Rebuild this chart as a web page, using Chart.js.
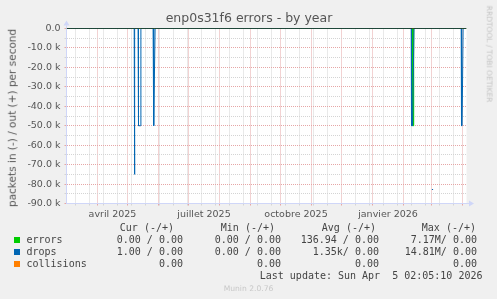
<!DOCTYPE html>
<html>
<head>
<meta charset="utf-8">
<title>enp0s31f6 errors - by year</title>
<script src="https://cdn.jsdelivr.net/npm/chart.js@4.4.1/dist/chart.umd.min.js"></script>
<style>
  html, body { margin: 0; padding: 0; background: #f0f0f0; }
  #graph { position: relative; width: 497px; height: 299px; overflow: hidden; background: #f0f0f0;
           font-family: 'DejaVu Sans', sans-serif; color: #555; }
  #graph canvas { position: absolute; left: 0; top: 0; }
  .t { position: absolute; white-space: pre; }
  .mono { font-family: 'DejaVu Sans Mono', monospace; color: #444; }
  .rot { transform: translate(-50%, -50%) rotate(-90deg); }
  .rot90 { transform: translate(-50%, -50%) rotate(90deg); }
  .box { position: absolute; width: 6px; height: 6px; }
</style>
</head>
<body>
<div id="graph">
  <canvas id="chart" width="497" height="299"></canvas>
</div>
<script>
// ---- data (x = days since 1 mars 2025, 1 px per day) ----
const dropsDay = [0, 67.7, 68, 68.3, 71.6, 72, 74, 74.4, 86.6, 87.2, 88.6, 344.7, 345, 346, 347.5, 394.7, 395, 395.6, 396.6, 400];
const dropsIn  = [0, 0, -75000, 0, 0, -50000, -50000, 0, 0, -50000, 0, 0, -50000, -50000, 0, 0, -50000, -50000, 0, 0];
const dropsDotDay = [366];
const dropsDotIn  = [-82800];
const errorsDay = [0, 346.1, 346.4, 347, 347.2, 400];
const errorsIn  = [0, 0, -50000, -50000, 0, 0];
const collisionsDay = [0, 400];
const collisionsVal = [0, 0];
const outDay = [0, 400];
const outVal = [0, 0];

// axis ticks
const monthStarts = [31, 61, 92, 122, 153, 184, 214, 245, 275, 306, 337, 365, 396];
const minorDays = [9, 23, 37, 51, 65, 79, 93, 107, 121, 135, 149, 163, 177, 191, 205, 219, 233, 247, 261, 275, 289, 303, 317, 331, 345, 359, 373, 387];
const labelDays = [46, 137.5, 229.5, 321.5];
const monthLabels = ['avril 2025', 'juillet 2025', 'octobre 2025', 'janvier 2026'];
const yMajor = [0, -10000, -20000, -30000, -40000, -50000, -60000, -70000, -80000, -90000];
const yMajorLabels = ['0.0', '-10.0 k', '-20.0 k', '-30.0 k', '-40.0 k', '-50.0 k', '-60.0 k', '-70.0 k', '-80.0 k', '-90.0 k'];
const yMinor = [-5000, -15000, -25000, -35000, -45000, -55000, -65000, -75000, -85000];

// legend table
const legendNames = ['errors', 'drops', 'collisions'];
const legendColors = ['#00cc00', '#0066b3', '#ff8000'];
const colHeads = ['Cur (-/+)', 'Min (-/+)', 'Avg (-/+)', 'Max (-/+)'];
const curCol = ['0.00 / 0.00', '1.00 / 0.00', '0.00'];
const minCol = ['0.00 / 0.00', '0.00 / 0.00', '0.00'];
const avgCol = ['136.94 / 0.00', '1.35k/ 0.00', '0.00'];
const maxCol = ['7.17M/ 0.00', '14.81M/ 0.00', '0.00'];
const lastUpdate = 'Last update: Sun Apr  5 02:05:10 2026';

const MAJOR = '#e6a6a6';
const MINOR = '#d4d4d4';
const AXIS = '#cfd6f8';
const tickFont = { family: 'DejaVu Sans', size: 9.5 };

function pts(xs, ys) { return xs.map((x, i) => ({ x: x, y: ys[i] })); }

// white canvas behind the plot
const canvasBg = {
  id: 'canvasBg',
  beforeDraw(chart) {
    const { ctx, chartArea: a } = chart;
    ctx.save();
    ctx.fillStyle = '#ffffff';
    ctx.fillRect(a.left, a.top, a.right - a.left, a.bottom - a.top);
    ctx.restore();
  }
};

// arrows at the end of the axes, like rrdtool
const axisArrows = {
  id: 'axisArrows',
  afterDraw(chart) {
    const { ctx, chartArea: a } = chart;
    ctx.save();
    ctx.strokeStyle = AXIS;
    ctx.fillStyle = AXIS;
    ctx.lineWidth = 1;
    ctx.beginPath();
    ctx.moveTo(a.left, a.top); ctx.lineTo(a.left, a.top - 3);
    ctx.moveTo(a.right, a.bottom); ctx.lineTo(a.right + 3, a.bottom);
    ctx.stroke();
    ctx.beginPath();
    ctx.moveTo(a.left - 3, a.top - 3); ctx.lineTo(a.left + 3, a.top - 3); ctx.lineTo(a.left, a.top - 8);
    ctx.closePath(); ctx.fill();
    ctx.beginPath();
    ctx.moveTo(a.right + 2.5, a.bottom - 3); ctx.lineTo(a.right + 2.5, a.bottom + 3); ctx.lineTo(a.right + 7.5, a.bottom);
    ctx.closePath(); ctx.fill();
    ctx.restore();
  }
};

new Chart(document.getElementById('chart'), {
  type: 'line',
  data: {
    datasets: [
      { label: 'out', data: pts(outDay, outVal), borderColor: '#000000', borderWidth: 1, pointRadius: 0, order: 0 },
      { label: 'drops', data: pts(dropsDay, dropsIn), borderColor: '#0066b3', borderWidth: 1, pointRadius: 0, order: 1 },
      { label: 'drops ', data: pts(dropsDotDay, dropsDotIn), showLine: false, pointStyle: 'rect', pointRadius: 0.8,
        pointBorderWidth: 0, backgroundColor: '#0066b3', order: 1 },
      { label: 'errors', data: pts(errorsDay, errorsIn), borderColor: '#00cc00', borderWidth: 1, pointRadius: 0, order: 2 },
      { label: 'collisions', data: pts(collisionsDay, collisionsVal), borderColor: '#ff8000', borderWidth: 1, pointRadius: 0, order: 3 }
    ]
  },
  options: {
    responsive: false,
    animation: false,
    events: [],
    layout: { padding: { left: 0, top: 28.5, right: 30.5, bottom: 71.5 } },
    plugins: { legend: { display: false }, tooltip: { enabled: false }, title: { display: false } },
    elements: { line: { tension: 0 } },
    scales: {
      x: {
        type: 'linear', min: 0, max: 400, weight: 0,
        afterBuildTicks: ax => { ax.ticks = monthStarts.concat(minorDays.filter(d => !monthStarts.includes(d))).sort((a, b) => a - b).map(v => ({ value: v })); },
        ticks: { display: false },
        grid: { color: c => monthStarts.includes(c.tick.value) ? MAJOR : MINOR, tickLength: 2, lineWidth: 1 },
        border: { color: AXIS, dash: [1, 1] },
        afterFit: s => { s.height = 4; }
      },
      xl: {
        type: 'linear', axis: 'x', position: 'bottom', min: 0, max: 400, weight: 1,
        afterBuildTicks: ax => { ax.ticks = labelDays.map(v => ({ value: v })); },
        ticks: { callback: (v, i) => monthLabels[i], font: tickFont, color: '#555', padding: 1, maxRotation: 0, autoSkip: false },
        grid: { display: false, drawTicks: false },
        border: { display: false },
        afterFit: s => { s.height = 20; }
      },
      y: {
        type: 'linear', min: -90000, max: 0,
        afterBuildTicks: ax => { ax.ticks = yMajor.concat(yMinor).sort((a, b) => b - a).map(v => ({ value: v })); },
        ticks: {
          callback: v => { const i = yMajor.indexOf(v); return i < 0 ? '' : yMajorLabels[i]; },
          font: tickFont, color: '#555', padding: 4, autoSkip: false
        },
        grid: { color: c => yMajor.includes(c.tick.value) ? MAJOR : MINOR, tickLength: 2, lineWidth: 1 },
        border: { color: AXIS, dash: [1, 1] },
        afterFit: s => { s.width = 66.5; }
      }
    }
  },
  plugins: [canvasBg, axisArrows]
});

// ---- texts around the plot (title, axis title, legend table) ----
const graph = document.getElementById('graph');
function addText(text, o) {
  const d = document.createElement('div');
  d.className = 't ' + (o.cls || '');
  d.textContent = text;
  d.style.fontSize = o.size + 'px';
  d.style.lineHeight = o.size + 'px';
  if (o.color) d.style.color = o.color;
  if (o.cx !== undefined) {
    d.style.left = o.cx + 'px';
    d.style.top = o.cy + 'px';
  } else {
    d.style.top = (o.baseline - 0.846 * o.size) + 'px';
    if (o.right !== undefined) d.style.right = (497 - o.right) + 'px';
    else d.style.left = o.left + 'px';
  }
  graph.appendChild(d);
  return d;
}

const title = addText('enp0s31f6 errors - by year', { size: 12.5, baseline: 22.3, left: 0 });
title.style.width = '498px';
title.style.textAlign = 'center';

addText('packets in (-) / out (+) per second', { size: 10.5, cx: 11.5, cy: 118, cls: 'rot' });
addText('RRDTOOL / TOBI OETIKER', { size: 7.5, cx: 489, cy: 53.5, cls: 'rot90', color: '#c4c4c4' });

const colRight = [183, 281, 379, 477];
const headRight = [174, 275, 376, 476];
colHeads.forEach((h, i) => addText(h, { size: 10, baseline: 231, right: headRight[i], cls: 'mono' }));
const rowBase = [243, 255, 267];
legendNames.forEach((name, r) => {
  const b = document.createElement('div');
  b.className = 'box';
  b.style.left = '14px';
  b.style.top = (rowBase[r] - 6) + 'px';
  b.style.background = legendColors[r];
  graph.appendChild(b);
  addText(name, { size: 10, baseline: rowBase[r], left: 26.5, cls: 'mono' });
  [curCol, minCol, avgCol, maxCol].forEach((col, i) => addText(col[r], { size: 10, baseline: rowBase[r], right: colRight[i], cls: 'mono' }));
});
addText(lastUpdate, { size: 10, baseline: 279, right: 482.5, cls: 'mono' });
const ver = addText('Munin 2.0.76', { size: 7.6, baseline: 291.7, left: 0, color: '#c8c8c8' });
ver.style.width = '497px';
ver.style.textAlign = 'center';
</script>
</body>
</html>
